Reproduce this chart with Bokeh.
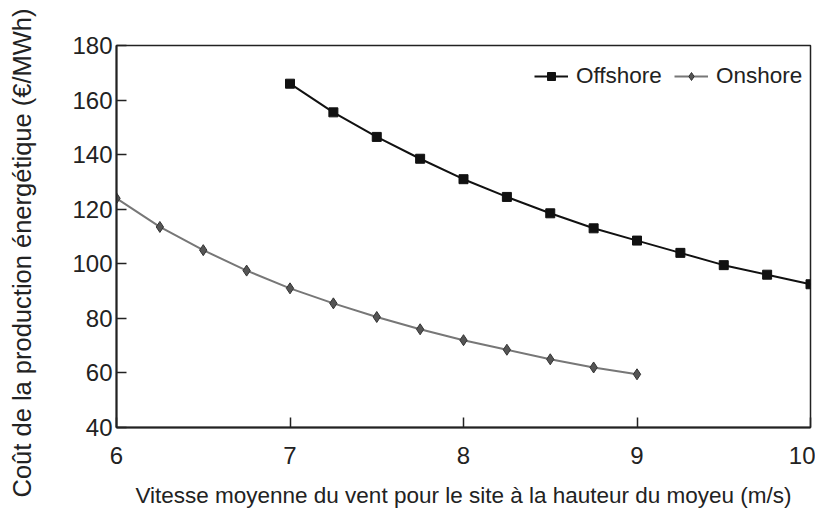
from bokeh.plotting import figure
from bokeh.models import FixedTicker, Range1d, Legend, LegendItem, Title
from bokeh.embed import file_html
from bokeh.resources import INLINE

wind_offshore = [7.0, 7.25, 7.5, 7.75, 8.0, 8.25, 8.5, 8.75, 9.0, 9.25, 9.5, 9.75, 10.0]
cost_offshore = [166, 155.5, 146.5, 138.5, 131, 124.5, 118.5, 113, 108.5, 104, 99.5, 96, 92.5]
wind_onshore = [6.0, 6.25, 6.5, 6.75, 7.0, 7.25, 7.5, 7.75, 8.0, 8.25, 8.5, 8.75, 9.0]
cost_onshore = [124, 113.5, 105, 97.5, 91, 85.5, 80.5, 76, 72, 68.5, 65, 62, 59.5]
x_ticks = [6, 7, 8, 9, 10]
y_ticks = [40, 60, 80, 100, 120, 140, 160, 180]

FONT = "Liberation Sans"

p = figure(width=815, height=510, output_backend="svg", toolbar_location=None,
           x_range=Range1d(6, 10), y_range=Range1d(40, 180),
           min_border_left=116, min_border_right=5, min_border_top=45, min_border_bottom=77)
p.grid.visible = False
p.outline_line_color = "#222222"
p.outline_line_width = 1.5

for ax in (p.xaxis[0], p.yaxis[0]):
    ax.axis_line_color = "#222222"
    ax.axis_line_width = 2
    ax.major_tick_line_color = "#222222"
    ax.major_tick_line_width = 1.5
    ax.major_tick_in = 10
    ax.major_tick_out = 0
    ax.minor_tick_line_color = None
    ax.major_label_text_font = FONT
    ax.major_label_text_font_size = "24px"
    ax.major_label_text_color = "#222222"
    ax.axis_label_text_font = FONT
    ax.axis_label_text_font_size = "22.5px"
    ax.axis_label_text_font_style = "normal"
    ax.axis_label_text_color = "#222222"

p.xaxis.ticker = FixedTicker(ticks=x_ticks)
p.yaxis.ticker = FixedTicker(ticks=y_ticks)
p.xaxis.major_label_standoff = 19
p.yaxis.major_label_standoff = 4
p.xaxis.axis_label = "Vitesse moyenne du vent pour le site à la hauteur du moyeu (m/s)"
p.xaxis.axis_label_standoff = 16
# spacer so that the rotated title sits further from the tick labels
p.yaxis.axis_label = " "
p.yaxis.axis_label_text_font_size = "1px"
p.yaxis.axis_label_standoff = 28

ylabel = Title(text="Coût de la production énergétique (€/MWh)", align="left", offset=-70,
               text_font=FONT, text_font_size="25.5px", text_font_style="normal",
               text_color="#222222", standoff=4)
p.add_layout(ylabel, "left")

l1 = p.line(wind_offshore, cost_offshore, line_color="#111111", line_width=2)
s1 = p.scatter(wind_offshore, cost_offshore, marker="square", size=9,
               fill_color="#111111", line_color="#111111")
l2 = p.line(wind_onshore, cost_onshore, line_color="#777777", line_width=2)
s2 = p.scatter(wind_onshore, cost_onshore, marker="diamond", size=11,
               fill_color="#555555", line_color="#333333", line_width=1)

legend = Legend(items=[LegendItem(label="Offshore", renderers=[l1, s1]),
                       LegendItem(label="Onshore", renderers=[l2, s2])],
                orientation="horizontal", location=(418, 338),
                border_line_color=None, background_fill_alpha=0,
                label_text_font=FONT, label_text_font_size="22.5px",
                label_text_color="#222222", glyph_width=34,
                spacing=12, label_standoff=8, padding=5, margin=0)
p.add_layout(legend)

open("out.html", "w").write(file_html(p, INLINE))
